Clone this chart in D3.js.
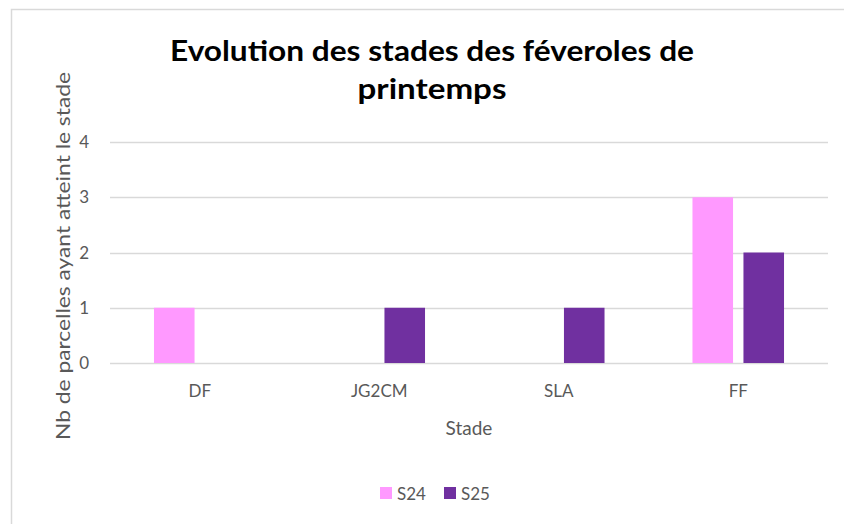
<!DOCTYPE html>
<html>
<head>
<meta charset="utf-8">
<script src="https://cdn.jsdelivr.net/npm/d3@7"></script>
<style>
  body { margin: 0; background: #fff; }
  text { font-family: Lato, "Open Sans", sans-serif; }
</style>
</head>
<body>
<div id="chart_container"></div>
<script>
// data
var stades = ["DF", "JG2CM", "SLA", "FF"];
var series = ["S24", "S25"];
var valuesS24 = [1, 0, 0, 3];
var valuesS25 = [0, 1, 1, 2];
var yTicks = [0, 1, 2, 3, 4];
var colors = ["#FF99FF", "#7030A0"];

var titleLines = ["Evolution des stades des féveroles de", "printemps"];
var titleWidths = [524, 149];
var yTitle = "Nb de parcelles ayant atteint le stade";
var xTitle = "Stade";

var W = 844, H = 524;
var margin = {top: 142, right: 16, bottom: 161, left: 110};

var svg = d3.select("#chart_container").append("svg")
            .attr("width", W)
            .attr("height", H);

// chart frame (runs off the right and bottom of the picture)
svg.append("rect")
    .attr("x", 11.5).attr("y", 9.5)
    .attr("width", 860).attr("height", 540)
    .style("fill", "white")
    .style("stroke", "#D9D9D9")
    .style("stroke-width", "1.5px");

var x = d3.scaleBand()
          .domain(stades)
          .range([margin.left, W - margin.right]);

var y = d3.scaleLinear()
          .domain([0, 4])
          .range([H - margin.bottom, margin.top]);

// bars inside each band: two bars with a small gap, group centered
var barW = x.bandwidth() * 0.226;
var barGap = x.bandwidth() * 0.058;
var x1 = d3.scaleOrdinal()
           .domain(series)
           .range([-(barW + barGap / 2), barGap / 2]);

// gridlines
svg.append("g")
    .selectAll("line")
    .data(yTicks)
    .enter().append("line")
    .attr("x1", margin.left)
    .attr("x2", W - margin.right)
    .attr("y1", function(d) { return Math.round(y(d)) + 0.5; })
    .attr("y2", function(d) { return Math.round(y(d)) + 0.5; })
    .style("stroke", "#D9D9D9")
    .style("stroke-width", "1.5px");

// y tick labels
svg.append("g")
    .selectAll("text")
    .data(yTicks)
    .enter().append("text")
    .attr("x", 89)
    .attr("y", function(d) { return y(d) + 6; })
    .attr("text-anchor", "end")
    .style("font-size", "17px")
    .style("fill", "#595959")
    .text(function(d) { return d; });

// bars
var rows = [];
stades.forEach(function(s, i) {
    rows.push({stade: s, serie: "S24", value: valuesS24[i]});
    rows.push({stade: s, serie: "S25", value: valuesS25[i]});
});

svg.append("g")
    .selectAll("rect")
    .data(rows.filter(function(d) { return d.value > 0; }))
    .enter().append("rect")
    .attr("x", function(d) { return x(d.stade) + x.bandwidth() / 2 + x1(d.serie); })
    .attr("y", function(d) { return y(d.value); })
    .attr("width", barW)
    .attr("height", function(d) { return y(0) - y(d.value); })
    .style("fill", function(d) { return colors[series.indexOf(d.serie)]; });

// category labels
svg.append("g")
    .selectAll("text")
    .data(stades)
    .enter().append("text")
    .attr("x", function(d) { return x(d) + x.bandwidth() / 2; })
    .attr("y", 397)
    .attr("text-anchor", "middle")
    .style("font-size", "17px")
    .style("fill", "#595959")
    .text(function(d) { return d; });

// axis titles
svg.append("text")
    .attr("x", (margin.left + W - margin.right) / 2)
    .attr("y", 435)
    .attr("text-anchor", "middle")
    .style("font-size", "19px")
    .style("fill", "#595959")
    .text(xTitle);

svg.append("text")
    .attr("transform", "translate(70,256) rotate(-90)")
    .attr("text-anchor", "middle")
    .attr("textLength", 368)
    .attr("lengthAdjust", "spacingAndGlyphs")
    .style("font-size", "20px")
    .style("fill", "#595959")
    .text(yTitle);

// title
svg.append("g")
    .selectAll("text")
    .data(titleLines)
    .enter().append("text")
    .attr("x", 432)
    .attr("y", function(d, i) { return 61 + i * 38; })
    .attr("text-anchor", "middle")
    .attr("textLength", function(d, i) { return titleWidths[i]; })
    .attr("lengthAdjust", "spacingAndGlyphs")
    .style("font-size", "29px")
    .style("font-weight", "bold")
    .style("fill", "black")
    .text(function(d) { return d; });

// legend
var legend = svg.append("g")
                .attr("transform", "translate(380,487)");

var item = legend.selectAll("g")
    .data(series)
    .enter().append("g")
    .attr("transform", function(d, i) { return "translate(" + (i * 64) + ",0)"; });

item.append("rect")
    .attr("width", 12).attr("height", 12)
    .style("fill", function(d, i) { return colors[i]; });

item.append("text")
    .attr("x", 17)
    .attr("y", 13)
    .style("font-size", "17px")
    .style("fill", "#595959")
    .text(function(d) { return d; });
</script>
</body>
</html>
